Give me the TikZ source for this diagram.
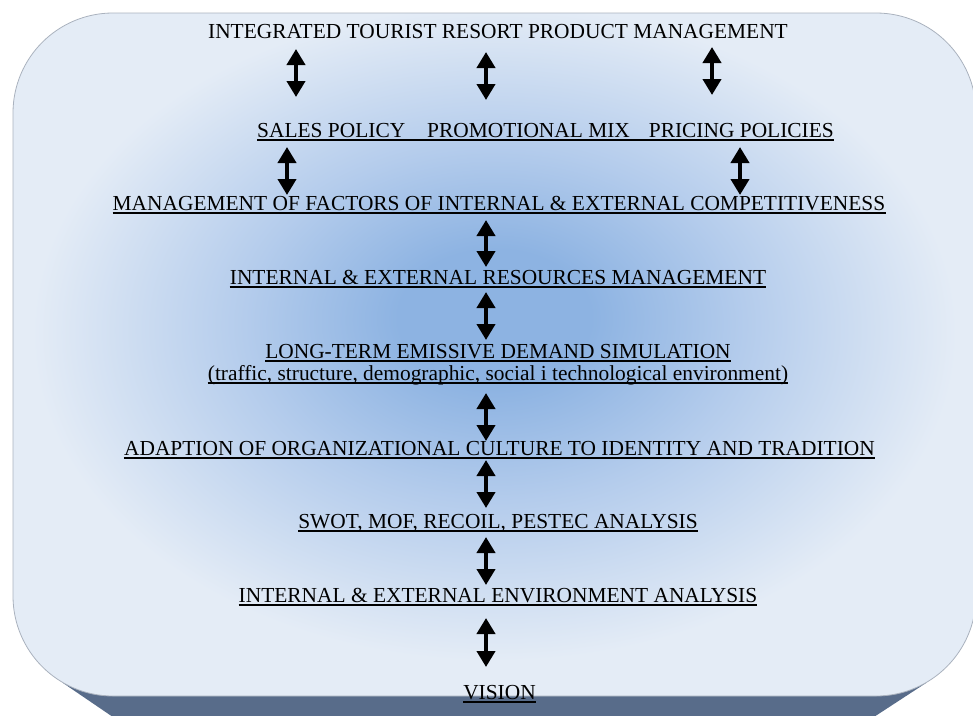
\documentclass[tikz,border=0pt]{standalone}
\usepackage{fontspec}
\setmainfont{Liberation Serif}
\usetikzlibrary{arrows.meta,calc}
\definecolor{cin}{RGB}{141,179,226}
\definecolor{cmid}{RGB}{180,204,236}
\definecolor{cout}{RGB}{228,236,246}
\definecolor{shadowc}{RGB}{88,108,138}
\definecolor{edgec}{RGB}{170,178,190}
\pgfdeclareradialshading{bgrad}{\pgfpoint{0bp}{3bp}}{color(0bp)=(cin); color(5bp)=(cin); color(13bp)=(cmid); color(24bp)=(cout); color(50bp)=(cout)}
\tikzset{
  lbl/.style={inner sep=0pt, anchor=base, text=black, font=\fontsize{21.4}{24}\selectfont},
  ulline/.style={line width=1.8pt, black},
  dbl/.style={line width=4.2pt, black, {Triangle[width=18pt,length=16pt]}-{Triangle[width=18pt,length=16pt]}}
}
\begin{document}
\begin{tikzpicture}[x=1pt,y=-1pt]
\useasboundingbox (0,0) rectangle (973,715);
\clip (0,0) rectangle (973,715);
% shadow / bottom face
\fill[shadowc] (63,683) -- (132,730) -- (854,730) -- (926,683) -- cycle;
% main rounded panel
\path[draw=edgec, line width=0.8pt, shading=bgrad, rounded corners=100pt] (13,13) rectangle (976,696);

% texts
\node[lbl] (title) at (498,38) {INTEGRATED TOURIST RESORT PRODUCT MANAGEMENT};
\node[lbl, anchor=base west] (sales) at (257,137) {SALES POLICY};
\node[lbl, anchor=base west] (promo) at (427,137) {PROMOTIONAL MIX};
\node[lbl, anchor=base east] (pricing) at (834,137) {PRICING POLICIES};
\node[lbl] (l3) at (499,210) {MANAGEMENT OF FACTORS OF INTERNAL \& EXTERNAL COMPETITIVENESS};
\node[lbl] (l4) at (498,284) {INTERNAL \& EXTERNAL RESOURCES MANAGEMENT};
\node[lbl] (l5) at (498,358) {LONG-TERM EMISSIVE DEMAND SIMULATION};
\node[lbl] (l6) at (498,380) {(traffic, structure, demographic, social i technological environment)};
\node[lbl] (l7) at (499.5,455) {ADAPTION OF ORGANIZATIONAL CULTURE TO IDENTITY AND TRADITION};
\node[lbl] (l8) at (498,528) {SWOT, MOF, RECOIL, PESTEC ANALYSIS};
\node[lbl] (l9) at (498,602) {INTERNAL \& EXTERNAL ENVIRONMENT ANALYSIS};
\node[lbl] (vision) at (499.5,699) {VISION};

% underlines
\draw[ulline] ($(sales.base west)+(0,2.8)$) -- ($(pricing.base east)+(0,2.8)$);
\foreach \n in {l3,l4,l5,l6,l7,l8,l9,vision}
  \draw[ulline] ($(\n.base west)+(0,2.8)$) -- ($(\n.base east)+(0,2.8)$);

% arrow end points
\coordinate (a1t) at (296,49);  \coordinate (a1b) at (296,97);
\coordinate (a2t) at (486,52);  \coordinate (a2b) at (486,100);
\coordinate (a3t) at (712,47);  \coordinate (a3b) at (712,95);
\coordinate (a4t) at (287,147); \coordinate (a4b) at (287,195);
\coordinate (a5t) at (740,147); \coordinate (a5b) at (740,195);
\coordinate (a6t) at (486,220); \coordinate (a6b) at (486,267);
\coordinate (a7t) at (486,292); \coordinate (a7b) at (486,340);
\coordinate (a8t) at (486,393); \coordinate (a8b) at (486,441);
\coordinate (a9t) at (486,460); \coordinate (a9b) at (486,508);
\coordinate (a10t) at (486,537); \coordinate (a10b) at (486,585);
\coordinate (a11t) at (486,618); \coordinate (a11b) at (486,667);
\foreach \i in {1,...,11}
  \draw[dbl] (a\i t) -- (a\i b);
\end{tikzpicture}
\end{document}
